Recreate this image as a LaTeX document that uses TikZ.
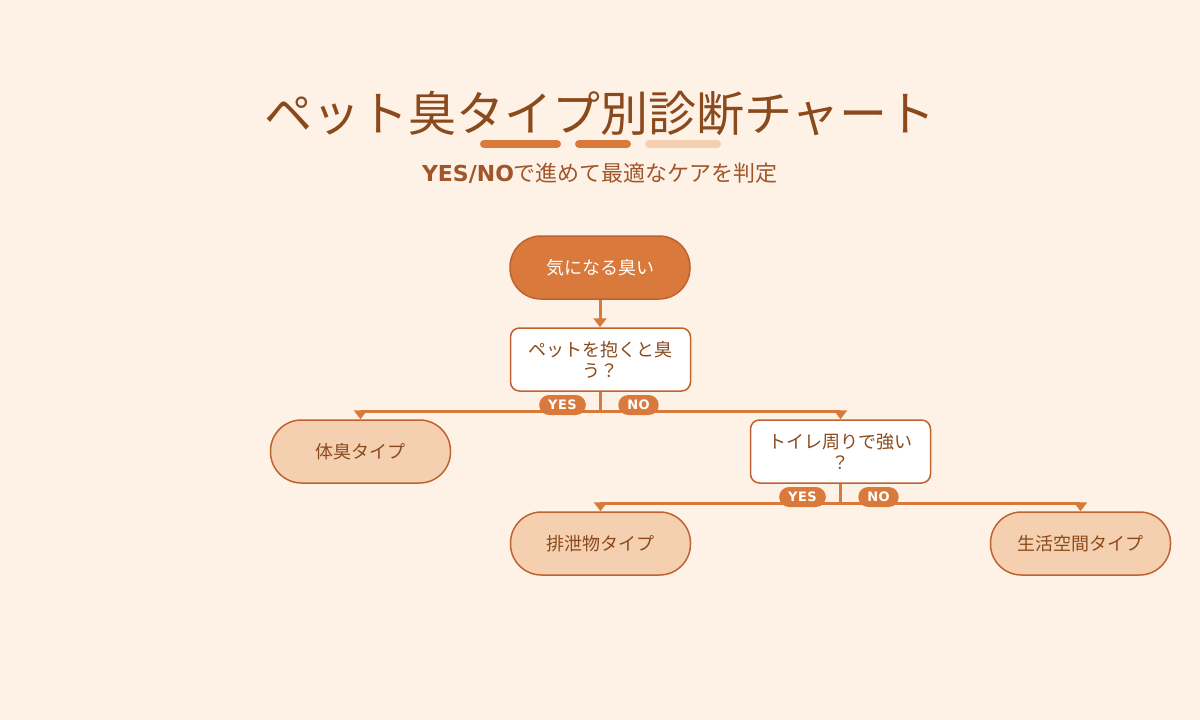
\documentclass[tikz,border=0pt]{standalone}
\usepackage{fontspec}
\setmainfont{Noto Sans CJK JP}[BoldFont={Noto Sans CJK JP Bold}]
\newfontfamily\dvb{DejaVu Sans}[LetterSpace=4]
\newfontfamily\dvbs{DejaVu Sans}
\usetikzlibrary{arrows.meta}
\definecolor{bg}{HTML}{FEF2E7}
\definecolor{org}{HTML}{D97A3C}
\definecolor{bord}{HTML}{BF6230}
\definecolor{brn}{HTML}{8B4A1C}
\definecolor{peach}{HTML}{F5D0B0}
\definecolor{subc}{HTML}{A0562A}
\begin{document}
\begin{tikzpicture}[x=1pt,y=-1pt,
  box/.style={draw=bord, line width=1.5pt, minimum width=180pt, minimum height=63pt,
    inner sep=0pt, align=center, font=\fontsize{18}{21}\selectfont},
  startbox/.style={box, fill=org, rounded corners=31pt, text=white},
  decbox/.style={box, fill=white, rounded corners=9pt, text=brn},
  leafbox/.style={box, fill=peach, rounded corners=31pt, text=brn},
  conn/.style={draw=org, line width=3pt},
  tipd/.style={-{Triangle[width=13pt,length=9pt]}},
  pill/.style={fill=org, text=white, rounded corners=10pt, minimum height=20pt,
    inner xsep=9pt, inner ysep=0pt, font=\fontsize{13}{13}\dvb\bfseries},
  bar/.style={line width=8pt, line cap=round}
]
\fill[bg] (0,0) rectangle (1200,720);
\useasboundingbox (0,0) rectangle (1200,720);
% title
\node[text=brn, font=\fontsize{48}{56}\selectfont] (title) at (600,113) {ペット臭タイプ別診断チャート};
\draw[bar, org] (484,144) -- (557,144);
\draw[bar, org] (579,144) -- (627,144);
\draw[bar, peach] (649,144) -- (717,144);
\node[text=subc, font=\fontsize{22}{25}\selectfont] (subtitle) at (600,173) {{\dvbs\bfseries YES/NO}で進めて最適なケアを判定};
% nodes
\node[startbox] (start) at (600,267.5) {気になる臭い};
\node[decbox] (dec1) at (600.5,359.5) {ペットを抱くと臭\\う？};
\node[leafbox] (leaf1) at (360.5,451.5) {体臭タイプ};
\node[decbox] (dec2) at (840.5,451.5) {トイレ周りで強い\\？};
\node[leafbox] (leaf2) at (600.5,543.5) {排泄物タイプ};
\node[leafbox] (leaf3) at (1080.5,543.5) {生活空間タイプ};
% connectors
\coordinate (j1) at (600.5,411);
\coordinate (j2) at (840.5,503);
\draw[conn, tipd] (start) -- (start |- dec1.north);
\draw[conn] (dec1.south) -- (j1);
\draw[conn, tipd] (j1) -| (leaf1.north);
\draw[conn, tipd] (j1) -| (dec2.north);
\draw[conn] (dec2.south) -- (j2);
\draw[conn, tipd] (j2) -| (leaf2.north);
\draw[conn, tipd] (j2) -| (leaf3.north);
% labels
\node[pill] (yes1) at (562.5,405) {YES};
\node[pill] (no1) at (638.5,405) {NO};
\node[pill] (yes2) at (802.5,497) {YES};
\node[pill] (no2) at (878.5,497) {NO};
\end{tikzpicture}
\end{document}
